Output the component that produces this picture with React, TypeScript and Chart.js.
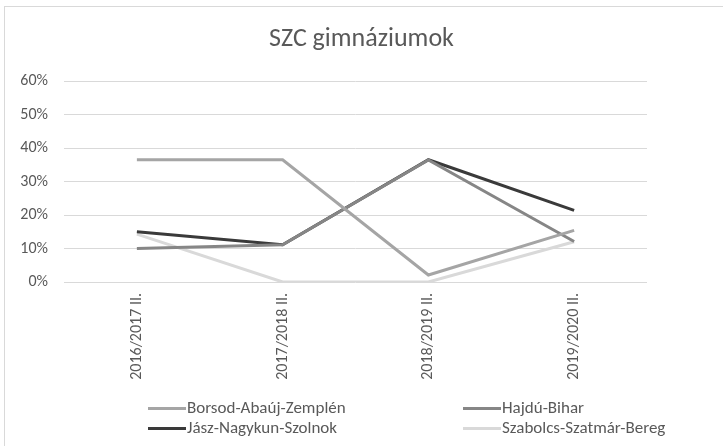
import React, { useEffect, useRef } from "react";
import { Chart, registerables } from "chart.js";

Chart.register(...registerables);

const categories = ["2016/2017 II.", "2017/2018 II.", "2018/2019 II.", "2019/2020 II."];
const borsod = [36.5, 36.5, 2.1, 15.4];
const hajdu = [10.0, 11.1, 36.4, 12.1];
const jasz = [15.0, 11.1, 36.5, 21.4];
const szabolcs = [14.3, 0.0, 0.0, 12.0];
const seriesNames = ["Borsod-Abaúj-Zemplén", "Hajdú-Bihar", "Jász-Nagykun-Szolnok", "Szabolcs-Szatmár-Bereg"];
const seriesColors = ["#a5a5a5", "#868686", "#3a3a3a", "#d9d9d9"];
const yTicks = [0, 10, 20, 30, 40, 50, 60];

const FONT = "Calibri, Carlito, Lato, 'Liberation Sans', sans-serif";

export default function App() {
  const ref = useRef<HTMLCanvasElement | null>(null);
  useEffect(() => {
    const values = [borsod, hajdu, jasz, szabolcs];
    const chart = new Chart(ref.current!, {
      type: "line",
      data: {
        labels: categories,
        datasets: values.map((v, i) => ({
          label: seriesNames[i],
          data: v,
          borderColor: seriesColors[i],
          backgroundColor: seriesColors[i],
          borderWidth: 3,
          pointRadius: 0,
          tension: 0,
          order: i,
        })),
      },
      options: {
        animation: false,
        responsive: false,
        layout: { padding: { left: 0, right: 76, top: 81, bottom: 44 } },
        plugins: {
          legend: { display: false },
          tooltip: { enabled: false },
          title: { display: false },
        },
        scales: {
          x: {
            offset: true,
            grid: { display: false, drawTicks: false },
            border: { display: false },
            ticks: {
              color: "#595959",
              font: { family: FONT, size: 16 },
              minRotation: 90,
              maxRotation: 90,
              padding: 11,
            },
            afterFit: (s: any) => {
              s.height = 120;
            },
          },
          y: {
            min: 0,
            max: 60,
            afterBuildTicks: (s: any) => {
              s.ticks = yTicks.map((v) => ({ value: v }));
            },
            grid: { color: "#d9d9d9", lineWidth: 1, drawTicks: false },
            border: { display: false },
            ticks: {
              color: "#595959",
              font: { family: FONT, size: 16 },
              padding: 16,
              callback: (v: any) => v + "%",
            },
            afterFit: (s: any) => {
              s.width = 64;
            },
          },
        },
      },
    });
    return () => chart.destroy();
  }, []);

  const legendItem = (i: number, left: number, top: number) => (
    <div
      key={i}
      style={{
        position: "absolute",
        left,
        top,
        display: "flex",
        alignItems: "center",
        fontFamily: FONT,
        fontSize: 17,
        color: "#595959",
        whiteSpace: "nowrap",
        lineHeight: "20px",
      }}
    >
      <span style={{ display: "inline-block", width: 38, height: 3, background: seriesColors[i], marginRight: 1 }} />
      {seriesNames[i]}
    </div>
  );

  return (
    <div style={{ position: "fixed", left: 0, top: 0, width: 723, height: 446, background: "#fff", overflow: "hidden" }}>
      <div
        style={{
          position: "absolute",
          left: 4,
          top: 6,
          width: 760,
          height: 480,
          borderLeft: "1px solid #d9d9d9",
          borderTop: "1px solid #d9d9d9",
        }}
      />
      <canvas ref={ref} width={723} height={446} style={{ position: "absolute", left: 0, top: 0 }} />
      <div
        style={{
          position: "absolute",
          left: 0,
          top: 22,
          width: 723,
          textAlign: "center",
          fontFamily: FONT,
          fontSize: 26,
          lineHeight: "30px",
          color: "#595959",
        }}
      >
        SZC gimnáziumok
      </div>
      {legendItem(0, 148, 398)}
      {legendItem(1, 463, 398)}
      {legendItem(2, 148, 418)}
      {legendItem(3, 463, 418)}
    </div>
  );
}
